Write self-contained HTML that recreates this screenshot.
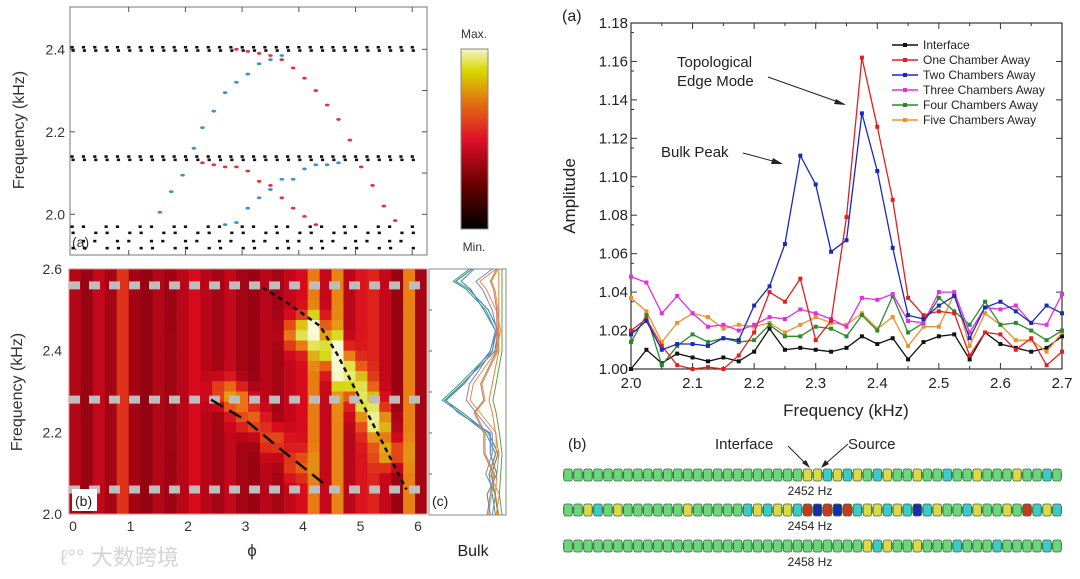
<!DOCTYPE html>
<html><head><meta charset="utf-8"><style>
html,body{margin:0;padding:0;background:#fff;width:1080px;height:579px;overflow:hidden}
svg{display:block;font-family:"Liberation Sans","Noto Sans CJK SC",sans-serif}
</style></head><body>
<svg id="fig" width="1080" height="579" viewBox="0 0 1080 579">
<g id="leftTop"></g>
<g id="heat"></g>
<g id="bulk"></g>
<g id="amp"></g>
<g id="cells"></g>
<text x="60" y="565" font-size="22" fill="#d4d4d4">ℓ°° 大数跨境</text>
</svg>
<script>
// ---------- Amplitude chart data ----------
const freqs = [2.0,2.025,2.05,2.075,2.1,2.125,2.15,2.175,2.2,2.225,2.25,2.275,2.3,2.325,2.35,2.375,2.4,2.425,2.45,2.475,2.5,2.525,2.55,2.575,2.6,2.625,2.65,2.675,2.7];
const interfaceVals = [1.000,1.010,1.003,1.008,1.006,1.004,1.006,1.004,1.009,1.021,1.010,1.011,1.010,1.009,1.011,1.017,1.013,1.016,1.005,1.014,1.017,1.018,1.005,1.019,1.013,1.011,1.009,1.011,1.017];
const oneVals = [1.020,1.026,1.012,1.002,1.000,1.001,1.000,1.007,1.019,1.040,1.035,1.047,1.015,1.025,1.079,1.162,1.126,1.088,1.037,1.028,1.030,1.029,1.007,1.019,1.018,1.010,1.016,1.002,1.009];
const twoVals = [1.018,1.025,1.010,1.013,1.013,1.012,1.016,1.015,1.033,1.043,1.065,1.111,1.096,1.061,1.067,1.133,1.103,1.063,1.028,1.026,1.033,1.038,1.016,1.032,1.035,1.030,1.024,1.033,1.029];
const threeVals = [1.048,1.045,1.029,1.038,1.029,1.022,1.023,1.020,1.023,1.027,1.026,1.031,1.029,1.026,1.022,1.037,1.036,1.039,1.025,1.024,1.040,1.040,1.019,1.032,1.031,1.033,1.024,1.023,1.039];
const fourVals = [1.014,1.028,1.002,1.012,1.018,1.014,1.016,1.014,1.015,1.023,1.017,1.017,1.022,1.021,1.017,1.028,1.020,1.038,1.019,1.024,1.037,1.030,1.023,1.035,1.023,1.024,1.020,1.015,1.020];
const fiveVals = [1.037,1.030,1.014,1.024,1.029,1.027,1.021,1.023,1.022,1.024,1.019,1.023,1.027,1.024,1.023,1.029,1.021,1.027,1.012,1.022,1.022,1.039,1.012,1.029,1.023,1.015,1.015,1.009,1.019];
const seriesNames = ["Interface","One Chamber Away","Two Chambers Away","Three Chambers Away","Four Chambers Away","Five Chambers Away"];
const xTicks = [2.0,2.1,2.2,2.3,2.4,2.5,2.6,2.7];
const yTicks = [1.00,1.02,1.04,1.06,1.08,1.10,1.12,1.14,1.16,1.18];

// ---------- Band structure (top-left) data, phi vs kHz ----------
const blackPhi = [0,0.2,0.4,0.6,0.8,1,1.2,1.4,1.6,1.8,2,2.2,2.4,2.6,2.8,3,3.2,3.4,3.6,3.8,4,4.2,4.4,4.6,4.8,5,5.2,5.4,5.6,5.8,6];
const blackBands = [2.405,2.397,2.140,2.132,1.970,1.955,1.935,1.918];
const redUpPhi = [2.9,3.1,3.3,3.5,3.7,3.9,4.1,4.3,4.5,4.7,4.9];
const redUpF = [2.40,2.395,2.39,2.385,2.375,2.355,2.33,2.30,2.265,2.23,2.18];
const redLowPhi = [2.3,2.5,2.7,2.9,3.1,3.3,3.5,3.7,3.9,4.1,4.3,5.1,5.3,5.5,5.7];
const redLowF = [2.125,2.12,2.115,2.115,2.105,2.08,2.07,2.04,2.015,1.995,1.975,2.115,2.07,2.02,1.985];
const blueUpPhi = [1.55,1.75,1.95,2.15,2.3,2.5,2.7,2.9,3.1,3.3,3.5,3.7];
const blueUpF = [2.005,2.055,2.095,2.16,2.21,2.25,2.295,2.32,2.34,2.365,2.375,2.385];
const blueLowPhi = [2.7,2.9,3.1,3.3,3.5,3.7,3.9,4.1,4.3,4.5,4.7];
const blueLowF = [1.975,1.98,2.015,2.04,2.06,2.085,2.085,2.11,2.12,2.12,2.125];

// ---------- Heatmap data ----------
const colBase = [0.33,0.28,0.36,0.30,0.48,0.30,0.27,0.33,0.29,0.34,0.40,0.34,0.30,0.36,0.30,0.28,0.34,0.30,0.36,0.40,0.62,0.36,0.64,0.34,0.42,0.45,0.36,0.28,0.63,0.30];
const ridgePhi = [3.9,4.2,4.5,4.7,4.9,5.1,5.3,5.5,2.6,2.9,3.1,3.5,3.9];
const ridgeF = [2.44,2.45,2.40,2.36,2.32,2.27,2.22,2.15,2.30,2.28,2.23,2.18,2.12];
const ridgeAmp = [0.35,0.45,0.55,0.5,0.45,0.45,0.5,0.4,0.25,0.3,0.3,0.25,0.2];
const guideF = [2.56,2.28,2.06];
const edgeCurvePhi = [3.3,3.8,4.3,4.6,5.0,5.4,5.8];
const edgeCurveF = [2.555,2.51,2.46,2.39,2.28,2.17,2.06];
const bulkCurvePhi = [2.4,3.0,3.6,4.4];
const bulkCurveF = [2.28,2.23,2.16,2.07];

// ---------- Bulk spectra (c) ----------
const bulkFreq = [2.0,2.05,2.1,2.15,2.2,2.25,2.28,2.32,2.4,2.45,2.5,2.55,2.57,2.6];
const bulkA = [0.9,0.85,0.8,0.9,0.75,0.35,0.08,0.35,0.85,0.9,0.75,0.45,0.25,0.5];
const bulkB = [0.8,0.75,0.9,0.8,0.8,0.3,0.12,0.4,0.8,0.88,0.7,0.5,0.35,0.55];
const bulkC = [0.85,0.9,0.75,0.85,0.85,0.6,0.45,0.5,0.85,0.92,0.85,0.7,0.6,0.85];
const bulkD = [0.75,0.8,0.85,0.7,0.7,0.55,0.7,0.65,0.9,0.9,0.9,0.85,0.8,0.9];
const bulkE = [0.95,0.9,0.92,0.95,0.9,0.85,0.8,0.85,0.95,0.95,0.95,0.95,0.95,0.95];

// ---------- Chamber cells (b right) ----------
const row2452 = "GGGGGGGGGGGGGGGGGGGGGGGGYYCYCYGCYGGYGGCGGYGGGYGGCG";
const row2454 = "GGYCGYGGGGGGYGGGGGCYCYYCRBRBRCYYCYCBCYGGCYGGYGRCYC";
const row2458 = "GGGGGGGGGGGGGGGGGGGGGGGGGGGGGGYCYGGYGGGCGGGCGGGGCG";

const NS='http://www.w3.org/2000/svg';
function mk(parent,tag,attrs,text){const e=document.createElementNS(NS,tag);for(const k in attrs)e.setAttribute(k,attrs[k]);if(text!==undefined)e.textContent=text;parent.appendChild(e);return e;}

// ===== Amplitude chart =====
(function(){
const g=document.getElementById('amp');
const L=631,R=1062,T=23,B=369;
const xs=f=>L+(f-2.0)/0.7*(R-L), ys=v=>B-(v-1.0)/0.18*(B-T);
mk(g,'rect',{x:L,y:T,width:R-L,height:B-T,fill:'none',stroke:'#333','stroke-width':1.2});
xTicks.forEach(t=>{const x=xs(t);
 let tk=mk(g,'line',{x1:x,x2:x,y1:B,y2:B-6,stroke:'#333'});
 
 mk(g,'line',{x1:x,x2:x,y1:T,y2:T+6,stroke:'#333'});
 let lb=mk(g,'text',{x:x,y:B+19,'font-size':15,'text-anchor':'middle',fill:'#222'},t.toFixed(1));
 });
for(let i=0;i<14;i++){const x=xs(2.05+i*0.1);if(x<R){mk(g,'line',{x1:x,x2:x,y1:B,y2:B-3,stroke:'#333'});mk(g,'line',{x1:x,x2:x,y1:T,y2:T+3,stroke:'#333'});}}
yTicks.forEach(t=>{const y=ys(t);
 mk(g,'line',{x1:L,x2:L+6,y1:y,y2:y,stroke:'#333'});mk(g,'line',{x1:R,x2:R-6,y1:y,y2:y,stroke:'#333'});
 mk(g,'line',{x1:L,x2:L+3,y1:y+9.6,y2:y+9.6,stroke:'#333'});
 let lb=mk(g,'text',{x:L-3,y:y+5,'font-size':15,'text-anchor':'end',fill:'#222'},t.toFixed(2));
 });
let xt=mk(g,'text',{x:846,y:416,'font-size':17,'text-anchor':'middle',fill:'#222'},'Frequency (kHz)');

let yt=mk(g,'text',{x:0,y:0,'font-size':17,'text-anchor':'middle',fill:'#222',transform:'translate(575,196) rotate(-90)'},'Amplitude');

let pa=mk(g,'text',{x:562,y:21,'font-size':16,fill:'#222'},'(a)');

const sets=[[interfaceVals,'#111'],[fiveVals,'#f0902a'],[fourVals,'#2a8a2a'],[threeVals,'#e030e0'],[oneVals,'#e02020'],[twoVals,'#1a2ab8']];
const keys=['interface','five','four','three','one','two'];
sets.forEach(([vals,c],si)=>{
 const pts=freqs.map((f,i)=>xs(f).toFixed(1)+','+ys(vals[i]).toFixed(1)).join(' ');
 let pl=mk(g,'polyline',{points:pts,fill:'none',stroke:c,'stroke-width':1.3});
 
 freqs.forEach((f,i)=>{let m=mk(g,'rect',{x:xs(f)-2,y:ys(vals[i])-2,width:4,height:4,fill:c});
  });
});
const legCols=['#111','#e02020','#1a2ab8','#e030e0','#2a8a2a','#f0902a'];
seriesNames.forEach((n,i)=>{const y=45+i*15;
 const lg=mk(g,'g',{});
 mk(lg,'line',{x1:892,x2:918,y1:y,y2:y,stroke:legCols[i],'stroke-width':1.5});
 mk(lg,'rect',{x:903,y:y-2,width:4,height:4,fill:legCols[i]});
 mk(lg,'text',{x:923,y:y+4,'font-size':12,fill:'#222'},n);});
let a1=mk(g,'text',{x:677,y:67,'font-size':15,fill:'#222'},'Topological');
mk(g,'text',{x:677,y:86,'font-size':15,fill:'#222'},'Edge Mode');
let a2=mk(g,'text',{x:661,y:157,'font-size':15,fill:'#222'},'Bulk Peak');
mk(g,'line',{x1:768,y1:77,x2:844,y2:104,stroke:'#222','stroke-width':1});
mk(g,'polygon',{points:'846,105 836,99 834,104',fill:'#222'});
mk(g,'line',{x1:743,y1:153,x2:780,y2:163,stroke:'#222','stroke-width':1});
mk(g,'polygon',{points:'783,164 773,158 771,164',fill:'#222'});
})();

// ===== Band structure top-left =====
(function(){
const g=document.getElementById('leftTop');
const L=70,R=427,T=7,B=255;
const xs=p=>72+p*56.7, ys=f=>49.3+(2.4-f)/0.1*41.25;
mk(g,'rect',{x:L,y:T,width:R-L,height:B-T,fill:'#fff',stroke:'#777','stroke-width':1});
[1,2,3,4,5,6].forEach(p=>{const x=xs(p);mk(g,'line',{x1:x,x2:x,y1:T,y2:T+5,stroke:'#555'});mk(g,'line',{x1:x,x2:x,y1:B,y2:B-5,stroke:'#555'});});
[2.4,2.2,2.0].forEach(f=>{const y=ys(f);mk(g,'line',{x1:L,x2:L+5,y1:y,y2:y,stroke:'#555'});mk(g,'line',{x1:R,x2:R-5,y1:y,y2:y,stroke:'#555'});
 let lb=mk(g,'text',{x:L-5,y:y+5,'font-size':14,'text-anchor':'end',fill:'#333'},f.toFixed(1));});
[2.3,2.1].forEach(f=>{const y=ys(f);mk(g,'line',{x1:R,x2:R-5,y1:y,y2:y,stroke:'#555'});});
let yt=mk(g,'text',{x:0,y:0,'font-size':16,'text-anchor':'middle',fill:'#333',transform:'translate(24,130) rotate(-90)'},'Frequency (kHz)');

let pl=mk(g,'text',{x:72,y:247,'font-size':14,fill:'#333'},'(a)');
blackPhi.forEach((p,i)=>{blackBands.forEach((f,j)=>{
 if(j>=4 && (i+j)%3==0) return;
 let d=mk(g,'rect',{x:xs(p)-1.5+(j%2)*1,y:ys(f)-1.3,width:3.2,height:2.6,fill:'#111'});
 });});
const dots=(ph,fr,c,n)=>ph.forEach((p,i)=>{let d=mk(g,'ellipse',{cx:xs(p),cy:ys(fr[i]),rx:2.3,ry:1.4,fill:c});});
dots(redUpPhi,redUpF,'#e8303a','edge-mode-red-dot');dots(redLowPhi,redLowF,'#e8303a','edge-mode-red-dot');
dots(blueUpPhi,blueUpF,'#3a90d0','edge-mode-blue-dot');dots(blueLowPhi,blueLowF,'#3a90d0','edge-mode-blue-dot');
const grad=mk(g,'linearGradient',{id:'cb',x1:0,y1:1,x2:0,y2:0});
[['0','#000'],['0.25','#6a0000'],['0.5','#e0102a'],['0.7','#e07010'],['0.88','#d8d800'],['1','#f4f4c8']].forEach(s=>mk(grad,'stop',{offset:s[0],'stop-color':s[1]}));
let cb=mk(g,'rect',{x:461,y:49,width:27,height:180,fill:'url(#cb)',stroke:'#888'});
mk(g,'text',{x:474,y:38,'font-size':12,'text-anchor':'middle',fill:'#333'},'Max.');
mk(g,'text',{x:474,y:251,'font-size':12,'text-anchor':'middle',fill:'#333'},'Min.');
})();

// ===== Heatmap =====
(function(){
const g=document.getElementById('heat');
const L=69,R=427,T=269,B=514;
const xs=p=>73+p*57.5, ys=f=>T+(2.6-f)/0.6*(B-T);
const nc=colBase.length, nr=24, cw=(R-L)/nc, rh=(B-T)/nr;
function cmap(v){v=Math.max(0,Math.min(1,v));
 const st=[[0,[0,0,0]],[0.2,[110,0,10]],[0.4,[215,10,30]],[0.6,[235,110,20]],[0.78,[215,215,20]],[1,[250,250,210]]];
 for(let i=1;i<st.length;i++){if(v<=st[i][0]){const a=st[i-1],b=st[i],t=(v-a[0])/(b[0]-a[0]);return 'rgb('+a[1].map((c,k)=>Math.round(c+(b[1][k]-c)*t)).join(',')+')';}}return 'rgb(250,250,210)';}
for(let c=0;c<nc;c++)for(let r=0;r<nr;r++){
 const phi=((L+(c+0.5)*cw)-73)/57.5, f=2.6-(r+0.5)/nr*0.6;
 let v=colBase[c];
 ridgePhi.forEach((rp,k)=>{const dx=(phi-rp)/0.22, dy=(f-ridgeF[k])/0.035;v+=ridgeAmp[k]*Math.exp(-(dx*dx+dy*dy));});
 let cell=mk(g,'rect',{x:L+c*cw,y:T+r*rh,width:cw+0.5,height:rh+0.5,fill:cmap(v)});
 }
mk(g,'rect',{x:L,y:T,width:R-L,height:B-T,fill:'none',stroke:'#d88','stroke-width':1});
guideF.forEach(f=>{let l=mk(g,'line',{x1:L,x2:R,y1:ys(f),y2:ys(f),stroke:'#bdbdbd','stroke-width':8,'stroke-dasharray':'11 9'});
 });
let e=mk(g,'polyline',{points:edgeCurvePhi.map((p,i)=>xs(p)+','+ys(edgeCurveF[i])).join(' '),fill:'none',stroke:'#111','stroke-width':2.5,'stroke-dasharray':'5 4'});

let b=mk(g,'polyline',{points:bulkCurvePhi.map((p,i)=>xs(p)+','+ys(bulkCurveF[i])).join(' '),fill:'none',stroke:'#111','stroke-width':2.5,'stroke-dasharray':'14 7'});

mk(g,'rect',{x:72,y:489,width:25,height:22,fill:'#fff'});
mk(g,'text',{x:75,y:506,'font-size':14,fill:'#222'},'(b)');
[0,1,2,3,4,5,6].forEach(p=>{let t=mk(g,'text',{x:xs(p),y:531,'font-size':14,'text-anchor':'middle',fill:'#333'},String(p));});
[2.6,2.4,2.2,2.0].forEach(f=>{let t=mk(g,'text',{x:62,y:ys(f)+5,'font-size':14,'text-anchor':'end',fill:'#333'},f.toFixed(1));});
let yt=mk(g,'text',{x:0,y:0,'font-size':16,'text-anchor':'middle',fill:'#333',transform:'translate(22,392) rotate(-90)'},'Frequency (kHz)');

let xt=mk(g,'text',{x:252,y:556,'font-size':17,'text-anchor':'middle',fill:'#333'},'ϕ');

})();

// ===== Bulk (c) =====
(function(){
const g=document.getElementById('bulk');
const L=429,R=506,T=269,B=515;
const ys=f=>T+(2.6-f)/0.6*(B-T), xs=a=>L+8+a*(R-L-12);
mk(g,'rect',{x:L,y:T,width:R-L,height:B-T,fill:'#fff',stroke:'#888'});
const sets=[[bulkA,'#3a9a8a'],[bulkB,'#40a0c0'],[bulkA,'#2e8a6a'],[bulkC,'#e09040'],[bulkC,'#8080c0'],[bulkD,'#c07080'],[bulkD,'#d0a030'],[bulkE,'#60a040'],[bulkE,'#e08040'],[bulkB,'#5a8ad0']];
sets.forEach(([arr,c],k)=>{let p=mk(g,'polyline',{points:bulkFreq.map((f,i)=>xs(Math.min(1,arr[i]+(k%4)*0.02)).toFixed(1)+','+ys(f).toFixed(1)).join(' '),fill:'none',stroke:c,'stroke-width':1});
 });
[2.1,2.2,2.3,2.4,2.5].forEach(f=>mk(g,'line',{x1:L,x2:L+3,y1:ys(f),y2:ys(f),stroke:'#666'}));
mk(g,'rect',{x:430,y:490,width:22,height:20,fill:'#fff'});
mk(g,'text',{x:432,y:506,'font-size':14,fill:'#222'},'(c)');
let t=mk(g,'text',{x:473,y:556,'font-size':16,'text-anchor':'middle',fill:'#222'},'Bulk');
})();

// ===== Chamber cells =====
(function(){
const g=document.getElementById('cells');
const cols={G:'#6cd67c',C:'#3ccbc8',Y:'#dcd848',R:'#c83a20',B:'#1a2aa8'};
const rows=[[row2452,475,'2452 Hz'],[row2454,510,'2454 Hz'],[row2458,546,'2458 Hz']];
const L=563,R=1062;
rows.forEach(([s,y,lab])=>{const n=s.length,w=(R-L)/n;
 mk(g,'rect',{x:L,y:y-3,width:R-L,height:6,fill:'#5aa060'});
 for(let i=0;i<n;i++){let c=mk(g,'rect',{x:L+i*w+0.8,y:y-6,width:w-1.6,height:12,rx:2,fill:cols[s[i]],stroke:'#3a6a40','stroke-width':0.8});
  }
 let t=mk(g,'text',{x:810,y:y+20,'font-size':12,'text-anchor':'middle',fill:'#222'},lab);});
mk(g,'text',{x:568,y:449,'font-size':15,fill:'#222'},'(b)');
let a=mk(g,'text',{x:715,y:449,'font-size':15,fill:'#222'},'Interface');
let b=mk(g,'text',{x:848,y:449,'font-size':15,fill:'#222'},'Source');
mk(g,'line',{x1:788,y1:446,x2:808,y2:466,stroke:'#222'});mk(g,'polygon',{points:'810,468 802,463 806,460',fill:'#222'});
mk(g,'line',{x1:848,y1:444,x2:824,y2:465,stroke:'#222'});mk(g,'polygon',{points:'821,468 825,460 829,464',fill:'#222'});
})();
</script>
</body></html>
